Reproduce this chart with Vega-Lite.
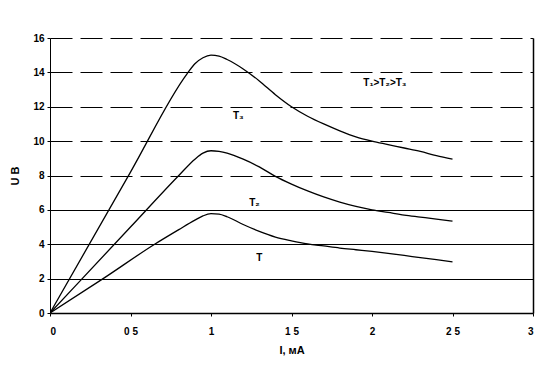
{
  "$schema": "https://vega.github.io/schema/vega-lite/v6.json",
  "width": 483,
  "height": 275,
  "autosize": {"type": "none"},
  "padding": {"left": 50, "top": 38, "right": 19, "bottom": 55},
  "background": "white",
  "config": {
    "view": {"stroke": null},
    "font": "Liberation Sans",
    "axis": {"labelFont": "Liberation Sans", "titleFont": "Liberation Sans", "labelColor": "black", "titleColor": "black", "domainColor": "black", "tickColor": "black", "labelFontSize": 10, "labelFontWeight": "bold", "titleFontSize": 11, "titleFontWeight": "bold"}
  },
  "datasets": {
    "curves": [
      {"I": 0, "U": 0, "s": "T3"}, {"I": 0.5, "U": 8.2, "s": "T3"}, {"I": 0.85, "U": 13.9, "s": "T3"}, {"I": 0.9, "U": 14.5, "s": "T3"}, {"I": 0.95, "U": 14.85, "s": "T3"}, {"I": 1.0, "U": 15.0, "s": "T3"}, {"I": 1.05, "U": 14.95, "s": "T3"}, {"I": 1.1, "U": 14.75, "s": "T3"}, {"I": 1.2, "U": 14.2, "s": "T3"}, {"I": 1.3, "U": 13.5, "s": "T3"}, {"I": 1.4, "U": 12.7, "s": "T3"}, {"I": 1.5, "U": 12.0, "s": "T3"}, {"I": 1.6, "U": 11.45, "s": "T3"}, {"I": 1.7, "U": 11.0, "s": "T3"}, {"I": 1.8, "U": 10.6, "s": "T3"}, {"I": 1.9, "U": 10.25, "s": "T3"}, {"I": 2.0, "U": 10.0, "s": "T3"}, {"I": 2.1, "U": 9.8, "s": "T3"}, {"I": 2.2, "U": 9.6, "s": "T3"}, {"I": 2.3, "U": 9.4, "s": "T3"}, {"I": 2.4, "U": 9.15, "s": "T3"}, {"I": 2.5, "U": 8.95, "s": "T3"},
      {"I": 0, "U": 0, "s": "T2"}, {"I": 0.5, "U": 5.0, "s": "T2"}, {"I": 0.8, "U": 8.0, "s": "T2"}, {"I": 0.9, "U": 8.95, "s": "T2"}, {"I": 0.95, "U": 9.3, "s": "T2"}, {"I": 1.0, "U": 9.44, "s": "T2"}, {"I": 1.05, "U": 9.4, "s": "T2"}, {"I": 1.1, "U": 9.3, "s": "T2"}, {"I": 1.2, "U": 8.95, "s": "T2"}, {"I": 1.3, "U": 8.5, "s": "T2"}, {"I": 1.4, "U": 7.95, "s": "T2"}, {"I": 1.5, "U": 7.5, "s": "T2"}, {"I": 1.6, "U": 7.1, "s": "T2"}, {"I": 1.7, "U": 6.75, "s": "T2"}, {"I": 1.8, "U": 6.45, "s": "T2"}, {"I": 1.9, "U": 6.2, "s": "T2"}, {"I": 2.0, "U": 6.0, "s": "T2"}, {"I": 2.1, "U": 5.85, "s": "T2"}, {"I": 2.2, "U": 5.7, "s": "T2"}, {"I": 2.3, "U": 5.58, "s": "T2"}, {"I": 2.4, "U": 5.46, "s": "T2"}, {"I": 2.5, "U": 5.35, "s": "T2"},
      {"I": 0, "U": 0, "s": "T"}, {"I": 0.33, "U": 2.0, "s": "T"}, {"I": 0.65, "U": 4.0, "s": "T"}, {"I": 0.8, "U": 4.85, "s": "T"}, {"I": 0.9, "U": 5.4, "s": "T"}, {"I": 0.95, "U": 5.65, "s": "T"}, {"I": 1.0, "U": 5.78, "s": "T"}, {"I": 1.05, "U": 5.75, "s": "T"}, {"I": 1.1, "U": 5.6, "s": "T"}, {"I": 1.2, "U": 5.15, "s": "T"}, {"I": 1.3, "U": 4.75, "s": "T"}, {"I": 1.4, "U": 4.42, "s": "T"}, {"I": 1.5, "U": 4.2, "s": "T"}, {"I": 1.6, "U": 4.02, "s": "T"}, {"I": 1.7, "U": 3.9, "s": "T"}, {"I": 1.8, "U": 3.78, "s": "T"}, {"I": 1.9, "U": 3.68, "s": "T"}, {"I": 2.0, "U": 3.58, "s": "T"}, {"I": 2.1, "U": 3.47, "s": "T"}, {"I": 2.2, "U": 3.35, "s": "T"}, {"I": 2.3, "U": 3.22, "s": "T"}, {"I": 2.4, "U": 3.1, "s": "T"}, {"I": 2.5, "U": 2.97, "s": "T"}
    ],
    "labels": [
      {"I": 2.08, "U": 13.4, "text": "T₁>T₂>T₃"},
      {"I": 1.17, "U": 11.45, "text": "T₃"},
      {"I": 1.27, "U": 6.4, "text": "T₂"},
      {"I": 1.30, "U": 3.2, "text": "T"}
    ]
  },
  "layer": [
    {
      "data": {"name": "curves"},
      "mark": {"type": "line", "color": "black", "strokeWidth": 1.3, "interpolate": "monotone", "clip": true},
      "encoding": {
        "x": {"field": "I", "type": "quantitative", "scale": {"domain": [0, 3], "nice": false},
          "axis": {"title": "I, мА", "values": [0, 0.5, 1, 1.5, 2, 2.5, 3], "labelExpr": "datum.value % 1 == 0 ? format(datum.value, 'd') : replace(format(datum.value, '.1f'), '.', ' ')", "grid": false, "tickSize": 3, "labelPadding": 10, "titlePadding": 8, "domainWidth": 1.5}},
        "y": {"field": "U", "type": "quantitative", "scale": {"domain": [0, 16], "nice": false},
          "axis": {"title": "U В", "values": [0, 2, 4, 6, 8, 10, 12, 14, 16], "tickSize": 3, "labelPadding": 3, "titlePadding": 12, "grid": true, "gridColor": "black", "gridOpacity": 1, "gridWidth": 1,
            "gridDash": {"condition": {"test": "datum.value <= 6", "value": []}, "value": [22, 8]}}},
        "detail": {"field": "s"}
      }
    },
    {
      "data": {"name": "labels"},
      "mark": {"type": "text", "color": "black", "fontSize": 10, "fontWeight": "bold", "font": "Liberation Sans"},
      "encoding": {
        "x": {"field": "I", "type": "quantitative"},
        "y": {"field": "U", "type": "quantitative", "axis": {"orient": "right", "title": null, "labels": false, "ticks": false, "grid": false, "domainColor": "black", "domainWidth": 1.5}},
        "text": {"field": "text"}
      }
    }
  ],
  "resolve": {"axis": {"y": "independent"}}
}
